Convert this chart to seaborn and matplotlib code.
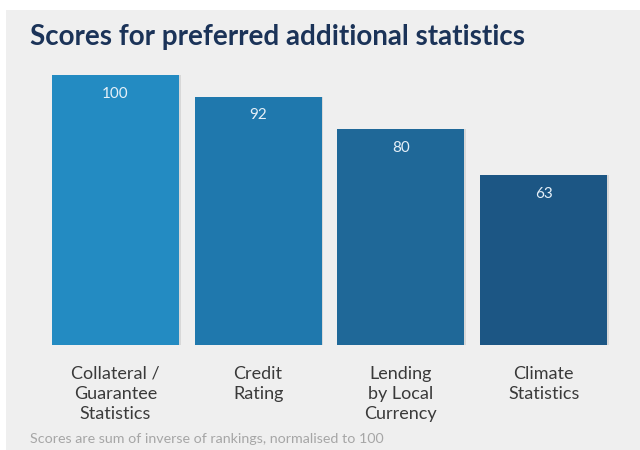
import matplotlib
matplotlib.use("Agg")
import matplotlib.pyplot as plt
import matplotlib.patches as mpatches
import seaborn as sns
import pandas as pd

categories = ["Collateral /\nGuarantee\nStatistics", "Credit\nRating", "Lending\nby Local\nCurrency", "Climate\nStatistics"]
scores = [100, 92, 80, 63]
bar_colors = ["#238bc2", "#1f78ad", "#1f6898", "#1c5684"]

title = "Scores for preferred additional statistics"
footnote = "Scores are sum of inverse of rankings, normalised to 100"

sns.set_theme(style="white")
plt.rcParams["font.family"] = ["Lato", "DejaVu Sans"]

df = pd.DataFrame({"category": categories, "score": scores})

fig = plt.figure(figsize=(6.4, 4.5), dpi=100)
fig.patch.set_facecolor("white")
# light grey card behind the chart
fig.patches.append(mpatches.Rectangle((6 / 640, 0), 1, 1 - 10 / 450,
                                      transform=fig.transFigure, facecolor="#efefef",
                                      edgecolor="none", zorder=-10))

ax = fig.add_axes([44 / 640, 105 / 450, 571 / 640, 270 / 450])
ax.set_facecolor("none")
sns.barplot(data=df, x="category", y="score", hue="category", palette=bar_colors,
            width=0.89, legend=False, ax=ax, saturation=1)

for p in ax.patches:
    p.set_edgecolor("none")
    # soft shadow on the right edge
    shadow = mpatches.Rectangle((p.get_x() + 0.012, p.get_y()), p.get_width(), p.get_height(),
                                facecolor="#d8d8d8", edgecolor="none", zorder=p.get_zorder() - 0.1)
    ax.add_patch(shadow)

for i, v in enumerate(scores):
    ax.text(i, v - 6.9, f"{v}", ha="center", va="center", color="#e6f0f8", fontsize=11)

ax.set_xlim(-0.5, 3.5)
ax.set_ylim(0, 100)
ax.set_xlabel("")
ax.set_ylabel("")
ax.set_yticks([])
ax.tick_params(axis="x", length=0, pad=15, labelsize=13, labelcolor="#3a3a3a")
for lbl in ax.get_xticklabels():
    lbl.set_linespacing(1.3)
    lbl.set_va("top")
for s in ax.spines.values():
    s.set_visible(False)

fig.text(30 / 640, 1 - 37 / 450, title, fontsize=20, fontweight="bold",
         color="#1b3358", ha="left", va="center")
fig.text(30 / 640, 1 - 439 / 450, footnote, fontsize=10.3, color="#a6a6a6",
         ha="left", va="center")

fig.savefig("out.png", dpi=100)
